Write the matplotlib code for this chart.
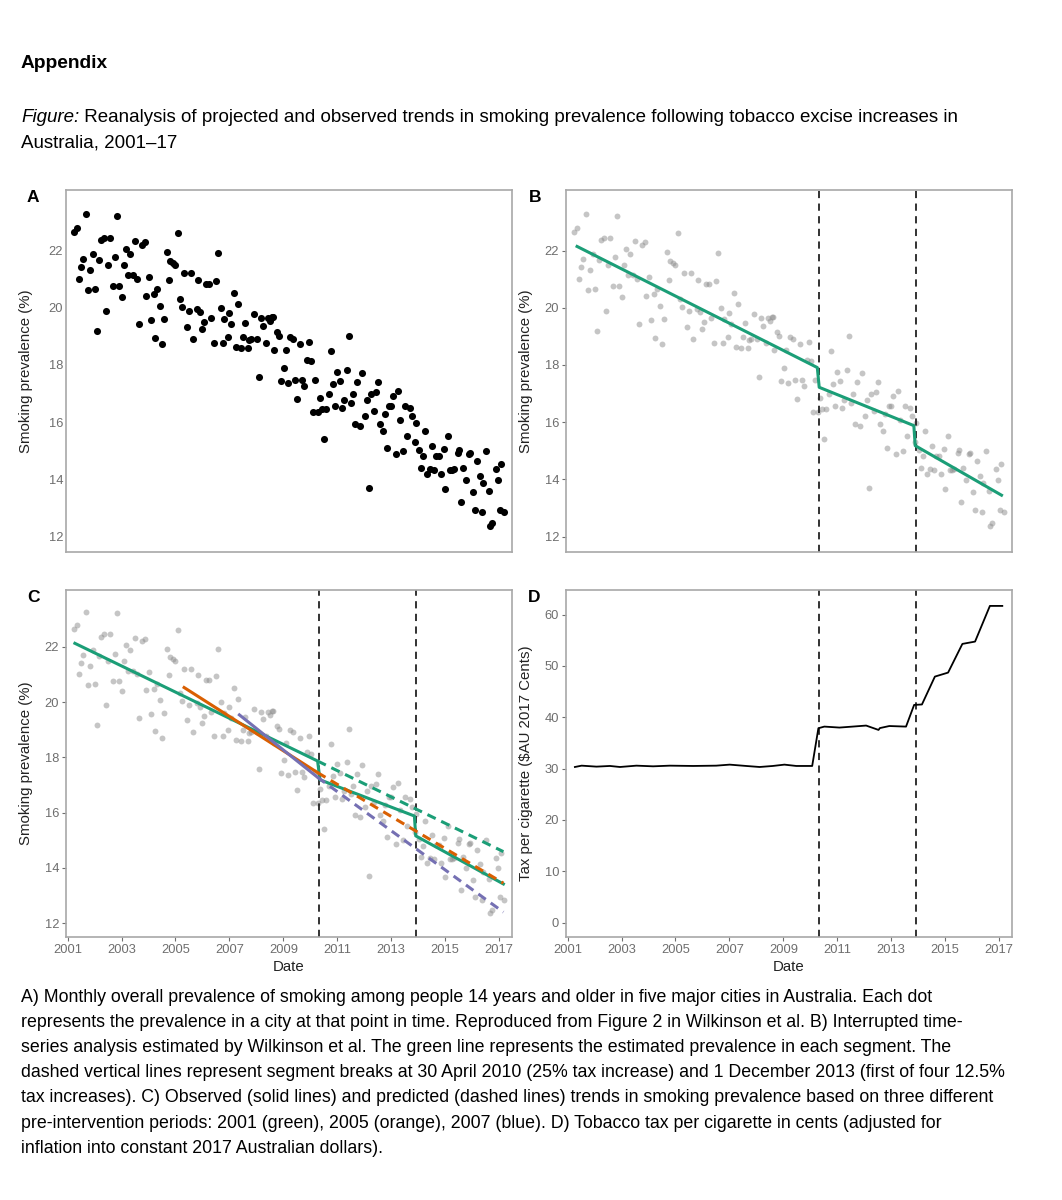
import numpy as np
import matplotlib.pyplot as plt

plt.rcParams['font.family'] = ['Liberation Sans', 'DejaVu Sans']

# Observed prevalence, one dot per city-month
year = [2001.23, 2001.35, 2001.43, 2001.48, 2001.58, 2001.68, 2001.77, 2001.84, 2001.93, 2002.00,
        2002.09, 2002.17, 2002.25, 2002.34, 2002.41, 2002.50, 2002.58, 2002.67, 2002.76, 2002.82,
        2002.90, 2003.00, 2003.08, 2003.16, 2003.25, 2003.31, 2003.41, 2003.51, 2003.58, 2003.65,
        2003.76, 2003.86, 2003.91, 2004.00, 2004.08, 2004.19, 2004.24, 2004.31, 2004.41, 2004.49,
        2004.57, 2004.67, 2004.76, 2004.81, 2004.90, 2004.99, 2005.09, 2005.17, 2005.25, 2005.32,
        2005.41, 2005.49, 2005.58, 2005.66, 2005.79, 2005.85, 2005.92, 2005.98, 2006.07, 2006.14,
        2006.24, 2006.33, 2006.43, 2006.52, 2006.58, 2006.68, 2006.76, 2006.81, 2006.96, 2007.00,
        2007.07, 2007.18, 2007.24, 2007.33, 2007.42, 2007.50, 2007.58, 2007.68, 2007.74, 2007.80,
        2007.91, 2008.04, 2008.09, 2008.17, 2008.26, 2008.35, 2008.44, 2008.51, 2008.57, 2008.62,
        2008.67, 2008.75, 2008.83, 2008.91, 2009.03, 2009.09, 2009.16, 2009.26, 2009.36, 2009.45,
        2009.52, 2009.61, 2009.68, 2009.77, 2009.87, 2009.94, 2010.03, 2010.09, 2010.19, 2010.27,
        2010.36, 2010.43, 2010.50, 2010.58, 2010.68, 2010.77, 2010.86, 2010.93, 2011.00, 2011.10,
        2011.18, 2011.26, 2011.35, 2011.42, 2011.51, 2011.58, 2011.67, 2011.75, 2011.84, 2011.91,
        2012.02, 2012.10, 2012.17, 2012.24, 2012.38, 2012.43, 2012.52, 2012.60, 2012.70, 2012.76,
        2012.85, 2012.91, 2012.99, 2013.08, 2013.17, 2013.25, 2013.34, 2013.45, 2013.53, 2013.60,
        2013.69, 2013.79, 2013.87, 2013.93, 2014.02, 2014.12, 2014.19, 2014.27, 2014.34, 2014.44,
        2014.53, 2014.60, 2014.66, 2014.76, 2014.85, 2014.94, 2015.01, 2015.12, 2015.17, 2015.26,
        2015.33, 2015.46, 2015.53, 2015.60, 2015.68, 2015.78, 2015.88, 2015.94, 2016.02, 2016.09,
        2016.20, 2016.30, 2016.36, 2016.42, 2016.51, 2016.61, 2016.67, 2016.75, 2016.87, 2016.95,
        2017.04, 2017.09, 2017.18]
prevalence = [22.64, 22.80, 21.01, 21.41, 21.71, 23.27, 20.62, 21.32, 21.88, 20.66,
              19.19, 21.67, 22.37, 22.45, 19.89, 21.48, 22.45, 20.78, 21.76, 23.22,
              20.78, 20.39, 21.48, 22.06, 21.13, 21.88, 21.13, 22.34, 21.01, 19.42,
              22.20, 22.29, 20.43, 21.09, 19.58, 20.47, 18.96, 20.66, 20.08, 18.72,
              19.61, 21.94, 20.97, 21.65, 21.56, 21.48, 22.61, 20.32, 20.04, 21.21,
              19.34, 19.89, 21.21, 18.91, 19.97, 20.97, 19.84, 19.26, 19.49, 20.82,
              20.82, 19.66, 18.76, 20.94, 21.91, 20.01, 18.76, 19.61, 18.99, 19.81,
              19.42, 20.51, 18.64, 20.12, 18.61, 18.99, 19.46, 18.61, 18.88, 18.91,
              19.77, 18.91, 17.59, 19.66, 19.38, 18.76, 19.66, 19.54, 19.69, 19.69,
              18.53, 19.14, 19.03, 17.44, 17.91, 18.53, 17.36, 18.99, 18.91, 17.48,
              16.81, 18.72, 17.48, 17.28, 18.18, 18.79, 18.14, 16.35, 17.48, 16.35,
              16.86, 16.46, 15.41, 16.46, 16.98, 18.49, 17.33, 16.58, 17.75, 17.44,
              16.51, 16.78, 17.83, 19.03, 16.66, 16.98, 15.93, 17.40, 15.85, 17.71,
              16.20, 16.78, 13.71, 16.98, 16.39, 17.05, 17.40, 15.93, 15.69, 16.28,
              15.11, 16.58, 16.55, 16.93, 14.88, 17.09, 16.08, 15.00, 16.58, 15.53,
              16.51, 16.20, 15.30, 15.96, 15.03, 14.41, 14.80, 15.69, 14.18, 14.37,
              15.18, 14.33, 14.83, 14.83, 14.18, 15.07, 13.67, 15.50, 14.33, 14.33,
              14.37, 14.91, 15.03, 13.20, 14.41, 13.98, 14.88, 14.91, 13.55, 12.93,
              14.65, 14.13, 12.85, 13.86, 15.00, 13.60, 12.38, 12.47, 14.37, 13.98,
              12.93, 14.53, 12.85]

# Segment breaks: 30 April 2010 and 1 December 2013
breaks = [2010.33, 2013.92]

# Panel B: interrupted time-series fit
fit_year = [2001.30, 2010.26, 2010.33, 2013.84, 2013.89, 2017.14]
fit_prev = [22.17, 17.91, 17.22, 15.88, 15.18, 13.42]

# Panel C: observed fits and projected trends from three pre-intervention periods
obs2001_year = [2001.27, 2010.27, 2010.36, 2013.86, 2013.91, 2017.16]
obs2001_prev = [22.13, 17.87, 17.19, 15.88, 15.16, 13.42]
proj2001_year = [2010.27, 2017.16]
proj2001_prev = [17.87, 14.59]
obs2005_year = [2005.32, 2010.27]
obs2005_prev = [20.53, 17.45]
proj2005_year = [2010.27, 2017.16]
proj2005_prev = [17.45, 13.45]
obs2007_year = [2007.37, 2010.27]
obs2007_prev = [19.54, 17.28]
proj2007_year = [2010.27, 2017.16]
proj2007_prev = [17.28, 12.40]

# Panel D: tax per cigarette (2017 cents)
tax_year = [2001.27, 2001.52, 2002.07, 2002.57, 2002.94, 2003.55, 2004.17, 2004.79, 2005.65, 2006.51,
            2007.01, 2007.62, 2008.12, 2008.61, 2009.04, 2009.48, 2010.07, 2010.30, 2010.52, 2011.08,
            2011.57, 2012.07, 2012.53, 2012.58, 2012.93, 2013.55, 2013.85, 2014.14, 2014.62, 2015.11,
            2015.64, 2016.11, 2016.66, 2017.12]
tax_cents = [30.32, 30.58, 30.39, 30.52, 30.32, 30.58, 30.45, 30.58, 30.52, 30.58,
             30.78, 30.52, 30.32, 30.52, 30.78, 30.52, 30.52, 37.87, 38.19, 38.00,
             38.19, 38.39, 37.54, 37.90, 38.30, 38.19, 42.41, 42.50, 47.93, 48.71,
             54.30, 54.75, 61.70, 61.70]

green, orange, purple = '#1B9E77', '#D95F02', '#7570B3'
tick_grey = '#6E6E6E'
frame_grey = '#A8A8A8'
W, H = 1062, 1200

fig = plt.figure(figsize=(W / 100, H / 100), dpi=100)


def make_axes(left, top, right, bottom):
    ax = fig.add_axes([left / W, 1 - bottom / H, (right - left) / W, (bottom - top) / H])
    for s in ax.spines.values():
        s.set_color(frame_grey)
        s.set_linewidth(1.2)
    ax.tick_params(colors=tick_grey, labelsize=9.3, length=3, width=0.8, pad=2)
    ax.set_xlim(2000.94, 2017.48)
    return ax


def style_prev(ax, ylim):
    ax.set_ylim(*ylim)
    ax.set_yticks([12, 14, 16, 18, 20, 22])
    ax.set_ylabel('Smoking prevalence (%)', fontsize=10.8, color='#222222')
    ax.yaxis.set_label_coords(-0.074, 0.5)


def style_date(ax):
    ax.set_xticks(range(2001, 2018, 2))
    ax.set_xlabel('Date', fontsize=10.8, color='#222222')
    ax.xaxis.set_label_coords(0.5, -0.066)


def add_breaks(ax):
    for b in breaks:
        ax.axvline(b, color='#222222', lw=1.3, ls=(0, (4, 3)), zorder=1)


# A
axA = make_axes(66, 190, 512, 552)
axA.scatter(year, prevalence, s=26, color='black', linewidths=0)
style_prev(axA, (11.46, 24.12))
axA.set_xticks([])
axA.tick_params(axis='y', length=0)

# B
axB = make_axes(566, 190, 1012, 552)
axB.scatter(year, prevalence, s=18, color='#8C8C8C', alpha=0.5, linewidths=0)
add_breaks(axB)
axB.plot(fit_year, fit_prev, color=green, lw=2.2, solid_capstyle='butt', zorder=3)
style_prev(axB, (11.46, 24.12))
axB.set_xticks([])

# C
axC = make_axes(66, 590, 512, 937)
axC.scatter(year, prevalence, s=18, color='#8C8C8C', alpha=0.5, linewidths=0)
add_breaks(axC)
axC.plot(obs2001_year, obs2001_prev, color=green, lw=2.2, zorder=3)
axC.plot(obs2005_year, obs2005_prev, color=orange, lw=2.2, zorder=3)
axC.plot(obs2007_year, obs2007_prev, color=purple, lw=2.2, zorder=3)
axC.plot(proj2001_year, proj2001_prev, color=green, lw=2.2, ls=(0, (3, 2)), zorder=3)
axC.plot(proj2005_year, proj2005_prev, color=orange, lw=2.2, ls=(0, (3, 2)), zorder=3)
axC.plot(proj2007_year, proj2007_prev, color=purple, lw=2.2, ls=(0, (3, 2)), zorder=3)
style_prev(axC, (11.5, 24.06))
style_date(axC)

# D
axD = make_axes(566, 590, 1012, 937)
add_breaks(axD)
axD.plot(tax_year, tax_cents, color='black', lw=1.3, zorder=3)
axD.set_ylim(-2.8, 64.8)
axD.set_yticks(range(0, 61, 10))
axD.set_ylabel('Tax per cigarette (\\$AU 2017 Cents)', fontsize=10.8, color='#222222')
axD.yaxis.set_label_coords(-0.074, 0.5)
style_date(axD)

for lab, x, y in [('A', 33, 197), ('B', 535, 197), ('C', 33, 597), ('D', 534, 597)]:
    fig.text(x / W, 1 - y / H, lab, fontsize=12.5, fontweight='bold', ha='center', va='center')

# Heading text
txt_font = ['Liberation Sans Narrow', 'Liberation Sans', 'DejaVu Sans']
overlay = fig.add_axes([0, 0, 1, 1], facecolor='none')
overlay.set_axis_off()
overlay.set_xlim(0, W)
overlay.set_ylim(H, 0)

overlay.text(21, 63, 'Appendix', fontsize=13.8, fontweight='bold', family=txt_font, va='center')
fig_word = overlay.text(21, 117, 'Figure:', fontsize=13.5, style='italic', family=txt_font, va='center')
overlay.annotate(' Reanalysis of projected and observed trends in smoking prevalence following tobacco excise increases in',
                 xy=(1, 0.5), xycoords=fig_word, va='center', fontsize=13.5, family=txt_font)
overlay.text(21, 143, 'Australia, 2001\u201317', fontsize=13.5, family=txt_font, va='center')

caption = [
    'A) Monthly overall prevalence of smoking among people 14 years and older in five major cities in Australia. Each dot',
    'represents the prevalence in a city at that point in time. Reproduced from Figure 2 in Wilkinson et al. B) Interrupted time-',
    'series analysis estimated by Wilkinson et al. The green line represents the estimated prevalence in each segment. The',
    'dashed vertical lines represent segment breaks at 30 April 2010 (25% tax increase) and 1 December 2013 (first of four 12.5%',
    'tax increases). C) Observed (solid lines) and predicted (dashed lines) trends in smoking prevalence based on three different',
    'pre-intervention periods: 2001 (green), 2005 (orange), 2007 (blue). D) Tobacco tax per cigarette in cents (adjusted for',
    'inflation into constant 2017 Australian dollars).',
]
for i, line in enumerate(caption):
    overlay.text(21, 997 + i * 25.2, line, fontsize=12.8, family=txt_font, va='center')

fig.savefig('out.png', dpi=100)
